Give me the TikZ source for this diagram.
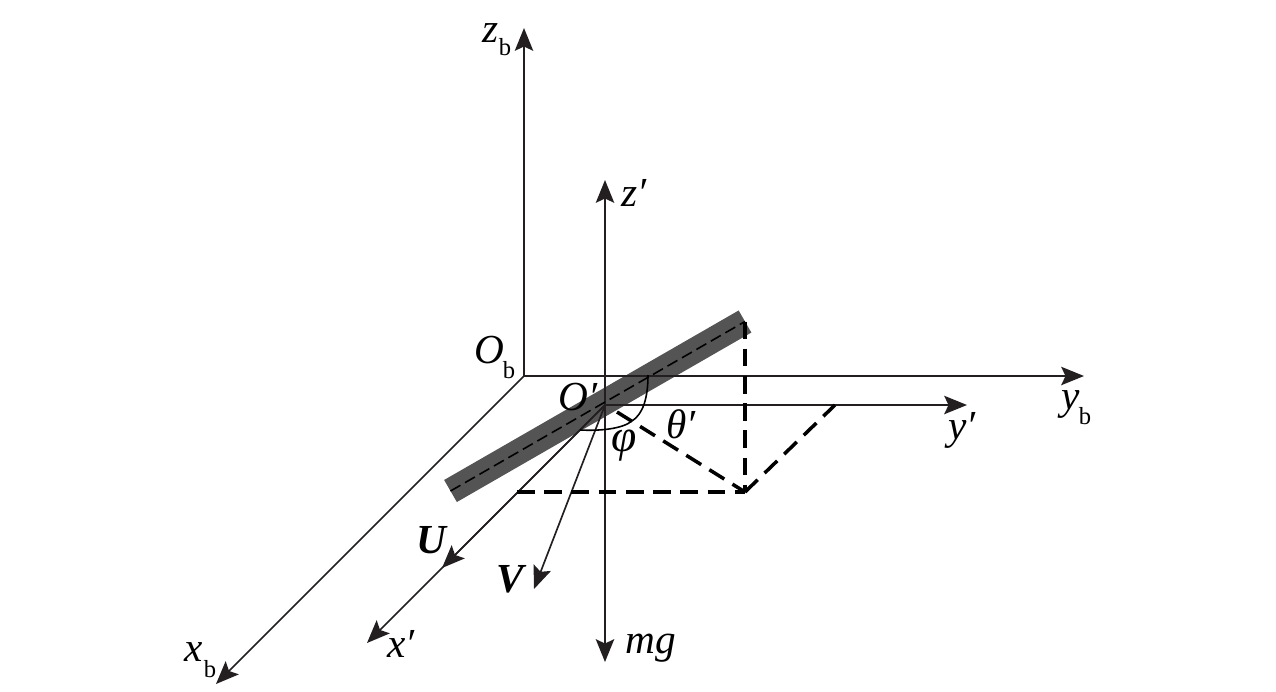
\documentclass[tikz,border=0pt]{standalone}
\usepackage{fontspec}
\setmainfont{Liberation Serif}
\usetikzlibrary{arrows.meta}
\definecolor{inkgray}{HTML}{231F20}
\tikzset{
    >={Stealth[length=13pt, width=10.5pt, inset=2.5pt]},
    x=0.02cm, y=-0.02cm,
    axis/.style={->, draw=inkgray, line width=0.95pt},
    guide/.style={draw=black, line width=2pt, dash pattern=on 10pt off 5.5pt},
    rodline/.style={draw=black, line width=0.9pt, dash pattern=on 6.5pt off 3pt},
    rod/.style={draw=black!67, line width=14.5pt},
    curve/.style={draw=black, line width=0.9pt},
    lab/.style={inner sep=0pt, font=\fontsize{23.5}{23.5}\selectfont\itshape},
    boldlab/.style={inner sep=0pt, font=\fontsize{23.5}{23.5}\selectfont\bfseries\itshape},
    sublab/.style={inner sep=0pt, font=\fontsize{14}{14}\selectfont},
}
\begin{document}
\begin{tikzpicture}
        % Frame
        \useasboundingbox (0,0) rectangle (1276,691);

        % Nodes
        \coordinate (Ob) at (524,376);
        \coordinate (zb) at (524,28);
        \coordinate (yb) at (1084,376);
        \coordinate (xb) at (216,684);
        \coordinate (O) at (605,405);
        \coordinate (z) at (605,180);
        \coordinate (y) at (967,405);
        \coordinate (x) at (367,643);
        \coordinate (U) at (442,568);
        \coordinate (V) at (534,589);
        \coordinate (G) at (605,662);
        \coordinate (A) at (450.5,491);
        \coordinate (B) at (745,321.5);
        \coordinate (F) at (745,492);
        \coordinate (Fl) at (517,492);
        \coordinate (Fr) at (835,405);
        \coordinate (T) at (617,412);
        \coordinate (K) at (632,421);

        % Rod
        \draw[rod] (A) -- (B);

        % Draw lines
        \draw[axis] (Ob) -- (zb);
        \draw[axis] (Ob) -- (yb);
        \draw[axis] (Ob) -- (xb);
        \draw[axis] (O) -- (z);
        \draw[axis] (O) -- (y);
        \draw[axis] (O) -- (x);
        \draw[axis] (O) -- (U);
        \draw[axis] (O) -- (V);
        \draw[axis] (O) -- (G);

        % Dashed
        \draw[rodline] (A) -- (B);
        \draw[guide] (B) -- (F);
        \draw[guide] (Fl) -- (F);
        \draw[guide] (F) -- (Fr);
        \draw[guide] (T) -- (F);

        % Angles
        \draw[curve] (648,375) .. controls (648,398) and (643,414) .. (K);
        \draw[curve] (580,430) .. controls (600,431) and (622,429) .. (K);

        % Labels
        \node[lab] (zl) at (491,33) {z};
        \node[sublab] (zs) at (505,47) {b};
        \node[lab] (Obl) at (489,350) {O};
        \node[sublab] (Obs) at (509,370) {b};
        \node[lab] (yl) at (1071,404) {y};
        \node[sublab] (ys) at (1085,416) {b};
        \node[lab] (xl) at (194,652) {x};
        \node[sublab] (xs) at (210,669) {b};
        \node[lab] (zp) at (634,193) {z′};
        \node[lab] (Op) at (578,397) {O′};
        \node[lab] (yp) at (962,430) {y′};
        \node[lab] (xp) at (401,644) {x′};
        \node[lab] (th) at (681,424) {θ′};
        \node[lab, font=\fontsize{26}{26}\selectfont\itshape] (ph) at (624,446) {φ};
        \node[boldlab] (Ul) at (431,540) {U};
        \node[boldlab] (Vl) at (510,579) {V};
        \node[lab] (mg) at (651,648) {mg};
    \end{tikzpicture}
\end{document}
